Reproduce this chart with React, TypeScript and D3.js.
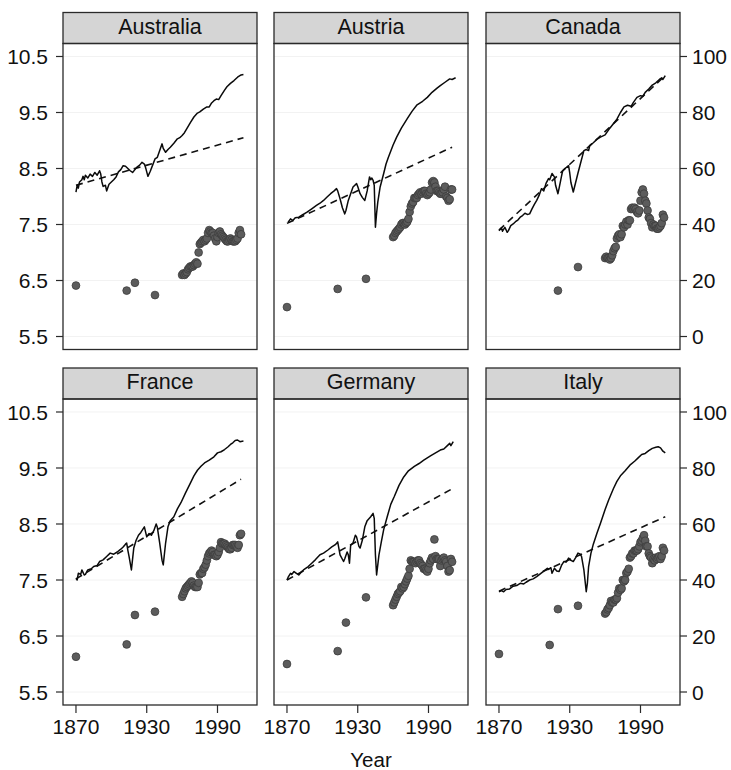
import React from "react";
import * as d3 from "d3";

// ---------- data ----------
const countries = ["Australia", "Austria", "Canada", "France", "Germany", "Italy"];

// log GDP per capita (left axis) [year, value]
const gdpAustralia: [number, number][] = [
  [1870, 8.08], [1871, 8.2], [1872, 8.15], [1873, 8.26], [1875, 8.3], [1876, 8.36], [1877, 8.3], [1878, 8.38],
  [1880, 8.33], [1882, 8.4], [1884, 8.36], [1886, 8.43], [1888, 8.38], [1890, 8.46], [1891, 8.4], [1892, 8.26],
  [1893, 8.18], [1895, 8.2], [1896, 8.1], [1898, 8.22], [1900, 8.26], [1902, 8.3], [1904, 8.35], [1906, 8.44],
  [1908, 8.48], [1910, 8.55], [1912, 8.54], [1914, 8.5], [1916, 8.46], [1918, 8.43], [1920, 8.48], [1922, 8.53],
  [1924, 8.56], [1926, 8.61], [1928, 8.58], [1929, 8.52], [1931, 8.36], [1933, 8.45], [1935, 8.56], [1937, 8.67],
  [1939, 8.7], [1941, 8.82], [1943, 8.94], [1944, 8.86], [1946, 8.79], [1948, 8.84], [1950, 8.88], [1953, 8.95],
  [1956, 9.03], [1958, 9.05], [1960, 9.09], [1962, 9.14], [1964, 9.21], [1967, 9.32], [1970, 9.42], [1973, 9.49],
  [1975, 9.51], [1978, 9.56], [1981, 9.6], [1983, 9.6], [1985, 9.67], [1987, 9.71], [1989, 9.74], [1991, 9.73],
  [1993, 9.8], [1996, 9.9], [1998, 9.96], [2001, 10.02], [2004, 10.07], [2007, 10.13], [2010, 10.17], [2012, 10.18],
];
const gdpAustria: [number, number][] = [
  [1871, 7.54], [1873, 7.6], [1875, 7.57], [1877, 7.62], [1880, 7.63], [1883, 7.67], [1887, 7.72], [1891, 7.78],
  [1895, 7.84], [1898, 7.88], [1901, 7.93], [1904, 7.99], [1907, 8.05], [1910, 8.1], [1912, 8.14], [1913, 8.1],
  [1915, 7.96], [1917, 7.8], [1919, 7.69], [1920, 7.75], [1922, 7.93], [1924, 8.05], [1926, 8.17], [1929, 8.23],
  [1930, 8.18], [1932, 8.05], [1934, 7.98], [1936, 7.93], [1938, 8.1], [1940, 8.35], [1941, 8.3], [1942, 8.33],
  [1943, 8.29], [1944, 8.2], [1945, 7.45], [1946, 7.7], [1947, 7.9], [1949, 8.17], [1952, 8.41], [1954, 8.58],
  [1956, 8.7], [1960, 8.92], [1963, 9.06], [1967, 9.22], [1972, 9.39], [1976, 9.52], [1980, 9.63], [1985, 9.7],
  [1989, 9.77], [1993, 9.86], [1997, 9.93], [2000, 9.98], [2004, 10.04], [2008, 10.1], [2010, 10.09], [2013, 10.12],
];
const gdpCanada: [number, number][] = [
  [1870, 7.39], [1872, 7.44], [1873, 7.38], [1875, 7.45], [1877, 7.36], [1878, 7.39], [1880, 7.48], [1882, 7.51],
  [1884, 7.55], [1886, 7.58], [1888, 7.63], [1890, 7.66], [1892, 7.7], [1894, 7.68], [1896, 7.69], [1898, 7.78],
  [1900, 7.86], [1902, 7.93], [1904, 8.02], [1906, 8.14], [1908, 8.1], [1910, 8.24], [1912, 8.32], [1913, 8.3],
  [1915, 8.41], [1917, 8.35], [1918, 8.2], [1920, 8.05], [1921, 8.15], [1923, 8.36], [1924, 8.46], [1926, 8.5],
  [1929, 8.55], [1930, 8.42], [1931, 8.25], [1933, 8.08], [1935, 8.25], [1937, 8.42], [1939, 8.58], [1942, 8.82],
  [1944, 8.84], [1946, 8.82], [1947, 8.91], [1950, 8.96], [1953, 9.02], [1956, 9.06], [1960, 9.1], [1964, 9.22],
  [1967, 9.3], [1970, 9.38], [1973, 9.5], [1976, 9.6], [1979, 9.63], [1982, 9.61], [1984, 9.68], [1987, 9.77],
  [1990, 9.8], [1992, 9.79], [1994, 9.86], [1997, 9.92], [2000, 9.99], [2003, 10.03], [2006, 10.09], [2008, 10.12],
  [2009, 10.09], [2011, 10.16],
];
const gdpFrance: [number, number][] = [
  [1870, 7.53], [1871, 7.5], [1872, 7.62], [1874, 7.6], [1875, 7.68], [1877, 7.59], [1878, 7.6], [1880, 7.68],
  [1883, 7.7], [1885, 7.74], [1888, 7.76], [1890, 7.83], [1893, 7.86], [1896, 7.92], [1899, 7.98], [1902, 7.96],
  [1905, 8.0], [1908, 8.05], [1910, 8.09], [1912, 8.14], [1913, 8.16], [1914, 8.03], [1915, 7.92], [1917, 7.68],
  [1919, 8.07], [1921, 8.21], [1923, 8.3], [1925, 8.35], [1928, 8.45], [1930, 8.27], [1932, 8.33], [1934, 8.3],
  [1936, 8.38], [1938, 8.5], [1939, 8.44], [1941, 8.16], [1943, 7.85], [1944, 7.77], [1946, 8.16], [1948, 8.45],
  [1950, 8.56], [1953, 8.63], [1956, 8.77], [1959, 8.88], [1963, 9.06], [1967, 9.23], [1970, 9.36], [1973, 9.46],
  [1976, 9.53], [1979, 9.59], [1983, 9.64], [1987, 9.7], [1990, 9.77], [1993, 9.79], [1996, 9.83], [1999, 9.88],
  [2001, 9.92], [2003, 9.95], [2005, 9.99], [2007, 10.0], [2009, 9.97], [2012, 9.98],
];
const gdpGermany: [number, number][] = [
  [1870, 7.5], [1871, 7.55], [1873, 7.62], [1874, 7.6], [1876, 7.65], [1878, 7.62], [1880, 7.59], [1882, 7.64],
  [1884, 7.68], [1888, 7.74], [1891, 7.8], [1894, 7.86], [1898, 7.95], [1901, 7.98], [1905, 8.04], [1908, 8.09],
  [1911, 8.13], [1913, 8.18], [1915, 7.95], [1918, 7.83], [1919, 7.88], [1921, 8.0], [1922, 7.95], [1923, 7.8],
  [1924, 8.12], [1926, 8.16], [1928, 8.3], [1929, 8.27], [1931, 8.1], [1932, 8.07], [1934, 8.22], [1936, 8.45],
  [1938, 8.56], [1941, 8.63], [1943, 8.69], [1944, 8.6], [1945, 7.95], [1946, 7.59], [1948, 7.95], [1950, 8.18],
  [1952, 8.4], [1955, 8.63], [1958, 8.85], [1961, 8.99], [1965, 9.19], [1969, 9.34], [1973, 9.45], [1978, 9.53],
  [1982, 9.58], [1986, 9.64], [1989, 9.68], [1992, 9.72], [1996, 9.77], [2000, 9.82], [2003, 9.84], [2006, 9.9],
  [2008, 9.94], [2009, 9.9], [2011, 9.97],
];
const gdpItaly: [number, number][] = [
  [1870, 7.29], [1872, 7.31], [1874, 7.29], [1876, 7.33], [1879, 7.34], [1882, 7.39], [1885, 7.4], [1888, 7.44],
  [1891, 7.43], [1893, 7.46], [1896, 7.5], [1899, 7.52], [1902, 7.56], [1905, 7.61], [1908, 7.66], [1911, 7.71],
  [1912, 7.69], [1914, 7.72], [1915, 7.62], [1917, 7.71], [1919, 7.66], [1921, 7.65], [1923, 7.76], [1925, 7.83],
  [1927, 7.82], [1929, 7.89], [1931, 7.85], [1933, 7.83], [1935, 7.9], [1937, 7.98], [1939, 7.96], [1940, 7.92],
  [1942, 7.68], [1944, 7.29], [1945, 7.45], [1946, 7.74], [1948, 7.98], [1950, 8.14], [1953, 8.33], [1956, 8.51],
  [1960, 8.76], [1963, 8.93], [1967, 9.13], [1970, 9.26], [1973, 9.36], [1977, 9.45], [1981, 9.55], [1985, 9.62],
  [1988, 9.68], [1991, 9.74], [1994, 9.76], [1997, 9.81], [2000, 9.85], [2003, 9.87], [2005, 9.88], [2007, 9.86],
  [2009, 9.8], [2011, 9.77],
];

// dashed trend lines (left axis): start and end
const trendAustralia: [number, number][] = [[1870, 8.2], [2012, 9.05]];
const trendAustria: [number, number][] = [[1870, 7.52], [2010, 8.88]];
const trendCanada: [number, number][] = [[1870, 7.4], [2011, 10.16]];
const trendFrance: [number, number][] = [[1870, 7.52], [2010, 9.3]];
const trendGermany: [number, number][] = [[1870, 7.5], [2011, 9.14]];
const trendItaly: [number, number][] = [[1870, 7.3], [2011, 8.63]];

// government spending, % of GDP (right axis)
const earlyYears = [1870, 1913, 1920, 1937];
const earlyAustralia = [18.2, 16.4, 19.2, 14.8];
const earlyAustria = [10.5, 17, null, 20.6];
const earlyCanada = [null, null, 16.4, 24.8];
const earlyFrance = [12.6, 17, 27.5, 28.7];
const earlyGermany = [10, 14.6, 24.8, 33.8];
const earlyItaly = [13.6, 16.8, 29.6, 30.8];

const modernStart = 1960;
const modernAustralia = [22, 22.5, 22, 22.5, 23, 24, 24.5, 25, 25, 25, 25.5, 26, 26.5, 26, 30, 33, 33.5, 34, 34.5, 34, 34.5, 35, 37, 38, 37.5, 37, 37, 36, 35, 34, 35.5, 37, 37.5, 36.5, 36, 35.5, 35, 34.5, 34, 34, 34.5, 35, 34.5, 34, 34, 34, 34.5, 35, 37, 38, 36.5];
const modernAustria = [35.5, 36, 37, 37.5, 38, 38.5, 39, 40, 40.5, 40.5, 40, 40.5, 41, 42, 44.5, 46.5, 47.5, 48, 49.5, 49.5, 49.5, 50.5, 51, 51.5, 51, 51.5, 52, 52, 51, 50.5, 51, 51.5, 52.5, 55, 55.5, 55, 53.5, 52, 52, 51.5, 51, 51, 51.5, 52.5, 53.5, 50, 49.5, 48.5, 49, 52.5, 52.5];
const modernCanada = [28, 28.5, 28, 28, 27.5, 28, 29, 30.5, 31.5, 32, 35, 36, 36.5, 35.5, 36.5, 39.5, 39, 40, 41, 40, 41.5, 41.5, 45.5, 46, 45.5, 46, 45.5, 44.5, 44, 45, 48.5, 51.5, 52.5, 51, 48.5, 47.5, 45, 42.5, 42, 40.5, 39, 40, 39.5, 39.5, 38.5, 38.5, 39, 39.5, 40.5, 43.5, 42.5];
const modernFrance = [34, 35, 36, 37, 37.5, 38, 38.5, 39, 39.5, 39, 38, 37.5, 37.5, 37.5, 39, 42, 42.5, 42.5, 44, 44.5, 45.5, 47, 48.5, 49.5, 50, 50.5, 50, 49, 49, 48.5, 49, 50, 51.5, 53.5, 53, 53, 53, 52.5, 52, 51.5, 51, 51, 51.5, 52.5, 52.5, 52.5, 52, 51.5, 52.5, 56, 56.5];
const modernGermany = [31, 32, 33, 34, 35, 35.5, 36, 37.5, 37, 37.5, 38.5, 39.5, 40.5, 41.5, 44, 47, 46.5, 46.5, 46.5, 46, 46.5, 47, 47, 46, 45.5, 45, 44, 44, 43.5, 43, 44, 46, 47, 48, 47.5, 54.5, 48.5, 47.5, 47.5, 47.5, 45, 47, 47.5, 48, 47, 46.5, 45, 43, 43.5, 47.5, 46.5];
const modernItaly = [28, 28.5, 29.5, 30, 31, 32.5, 32, 32, 33, 33, 33.5, 35.5, 37, 36.5, 37, 40, 39.5, 40, 42.5, 43, 44, 48, 48.5, 49.5, 49.5, 50.5, 50.5, 50.5, 51, 52, 53.5, 54, 55, 56, 54, 52, 52, 49.5, 48.5, 48, 46, 47.5, 47, 48, 47.5, 48, 48.5, 47.5, 48.5, 51.5, 50.5];

const gdpSeries = [gdpAustralia, gdpAustria, gdpCanada, gdpFrance, gdpGermany, gdpItaly];
const trendSeries = [trendAustralia, trendAustria, trendCanada, trendFrance, trendGermany, trendItaly];
const earlySeries = [earlyAustralia, earlyAustria, earlyCanada, earlyFrance, earlyGermany, earlyItaly];
const modernSeries = [modernAustralia, modernAustria, modernCanada, modernFrance, modernGermany, modernItaly];

const leftTicks = [5.5, 6.5, 7.5, 8.5, 9.5, 10.5];
const rightTicks = [0, 20, 40, 60, 80, 100];
const xTicks = [1870, 1930, 1990];

// ---------- layout ----------
const W = 731;
const H = 770;
const colLeft = [63, 274, 486];
const panelW = 194;
const rowStripTop = [12.5, 368];
const stripH = 31;
const plotH = 306;
const FONT = "'Liberation Sans', Arial, Helvetica, sans-serif";

const xDomain: [number, number] = [1859, 2023.5];
const yDomain: [number, number] = [5.268, 10.732];
const rDomain: [number, number] = [-4.64, 104.64];

export default function App() {
  return (
    <div style={{ position: "absolute", left: 0, top: 0 }}>
      <svg width={W} height={H} style={{ display: "block", background: "#fff" }} fontFamily={FONT}>
        {countries.map((name, i) => {
          const col = i % 3;
          const row = Math.floor(i / 3);
          const x0 = colLeft[col];
          const sTop = rowStripTop[row];
          const pTop = sTop + stripH;
          const pBot = pTop + plotH;
          const x = d3.scaleLinear().domain(xDomain).range([x0, x0 + panelW]);
          const y = d3.scaleLinear().domain(yDomain).range([pBot, pTop]);
          const r = d3.scaleLinear().domain(rDomain).range([pBot, pTop]);
          const line = d3
            .line<[number, number]>()
            .x((d) => x(d[0]))
            .y((d) => y(d[1]));
          const early = earlyYears
            .map((yr, k) => ({ yr, v: earlySeries[i][k] }))
            .filter((d) => d.v != null) as { yr: number; v: number }[];
          const modern = modernSeries[i].map((v, k) => ({ yr: modernStart + k, v }));
          const dots = [...early, ...modern];
          return (
            <g key={name}>
              {/* faint grid */}
              {leftTicks.map((t) => (
                <line key={"g" + t} x1={x0} x2={x0 + panelW} y1={y(t)} y2={y(t)} stroke="#f2f2f2" strokeWidth={1} />
              ))}
              {/* strip */}
              <rect x={x0} y={sTop} width={panelW} height={stripH} fill="#d5d5d5" stroke="#2a2a2a" strokeWidth={1.3} />
              <text x={x0 + panelW / 2} y={sTop + 21} textAnchor="middle" fontSize={21.5} fill="#111">
                {name}
              </text>
              {/* trend */}
              <path d={line(trendSeries[i]) || ""} fill="none" stroke="#111" strokeWidth={1.6} strokeDasharray="7,5" />
              {/* gdp */}
              <path d={line(gdpSeries[i]) || ""} fill="none" stroke="#0a0a0a" strokeWidth={1.5} strokeLinejoin="round" />
              {/* spending dots */}
              {dots.map((d) => (
                <circle key={d.yr} cx={x(d.yr)} cy={r(d.v)} r={3.9} fill="#5c5c5c" stroke="#3c3c3c" strokeWidth={0.8} />
              ))}
              {/* panel border */}
              <rect x={x0} y={pTop} width={panelW} height={plotH} fill="none" stroke="#2a2a2a" strokeWidth={1.3} />
              {/* left axis */}
              {col === 0 &&
                leftTicks.map((t) => (
                  <g key={"l" + t}>
                    <line x1={x0 - 7} x2={x0} y1={y(t)} y2={y(t)} stroke="#2a2a2a" strokeWidth={1.2} />
                    <text x={x0 - 15} y={y(t)} dy="0.36em" textAnchor="end" fontSize={21} fill="#111">
                      {t.toFixed(1)}
                    </text>
                  </g>
                ))}
              {/* right axis */}
              {col === 2 &&
                rightTicks.map((t) => (
                  <g key={"r" + t}>
                    <line x1={x0 + panelW} x2={x0 + panelW + 7} y1={r(t)} y2={r(t)} stroke="#2a2a2a" strokeWidth={1.2} />
                    <text x={x0 + panelW + 12} y={r(t)} dy="0.36em" textAnchor="start" fontSize={21} fill="#111">
                      {t}
                    </text>
                  </g>
                ))}
              {/* bottom axis */}
              {row === 1 &&
                xTicks.map((t) => (
                  <g key={"x" + t}>
                    <line x1={x(t)} x2={x(t)} y1={pBot} y2={pBot + 8} stroke="#2a2a2a" strokeWidth={1.2} />
                    <text x={x(t)} y={pBot + 29} textAnchor="middle" fontSize={21} fill="#111">
                      {t}
                    </text>
                  </g>
                ))}
            </g>
          );
        })}
        <text x={colLeft[1] + panelW / 2} y={767} textAnchor="middle" fontSize={20.5} fill="#111">
          Year
        </text>
      </svg>
    </div>
  );
}
